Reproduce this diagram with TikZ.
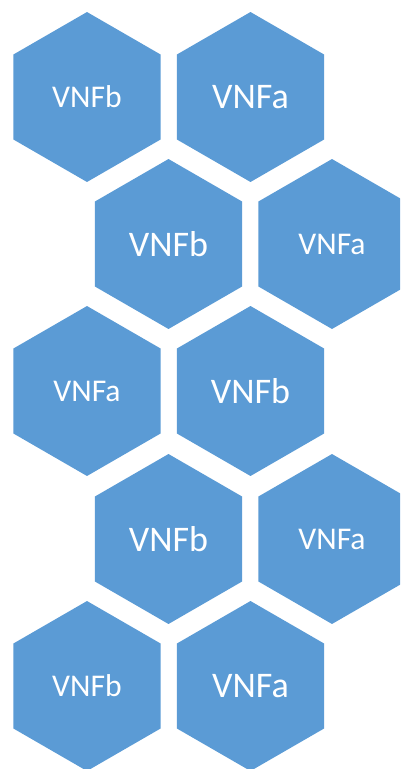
\documentclass[tikz,border=0pt]{standalone}
\usepackage{fontspec}
\setmainfont{Carlito}
\usepackage{xcolor}
\usetikzlibrary{shapes.geometric}
\definecolor{vnfblue}{HTML}{5B9BD5}
\tikzset{
  every picture/.append style={line cap=round,line join=round},
  vnf cell/.style={regular polygon,regular polygon sides=6,shape border rotate=30,
    minimum size=3.4cm,inner sep=0pt,outer sep=0pt,fill=vnfblue,draw=none,text=white},
  vnf big/.style={vnf cell,font=\fontsize{20.5}{24}\selectfont},
  vnf small/.style={vnf cell,font=\fontsize{18}{22}\selectfont}
}
\begin{document}
\begin{tikzpicture}[x=0.02cm,y=-0.02cm]
\useasboundingbox (0,0) rectangle (400,769);
\clip (0,0) rectangle (400,769);
% rows of cells, offset every second row
\foreach \name/\x/\y/\sz/\lab in {
  r1b/87/97/small/VNFb,    r1a/250.5/97/big/VNFa,
  r2b/168.5/244/big/VNFb,  r2a/332/244/small/VNFa,
  r3a/87/391/small/VNFa,   r3b/250.5/391/big/VNFb,
  r4b/168.5/539/big/VNFb,  r4a/332/539/small/VNFa,
  r5b/87/686/small/VNFb,   r5a/250.5/686/big/VNFa
}{
  \node[vnf \sz] (\name) at (\x,\y) {\lab};
}
\end{tikzpicture}
\end{document}
